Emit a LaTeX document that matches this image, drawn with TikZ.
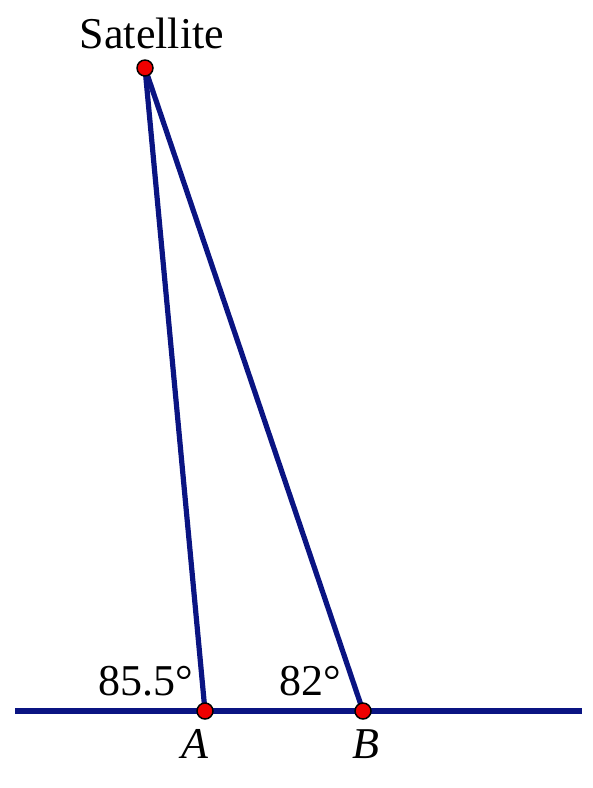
\documentclass[tikz,border=0pt]{standalone}
\usepackage{fontspec}
\setmainfont{Liberation Serif}
\begin{document}
\begin{tikzpicture}[x=0.75pt,y=-0.75pt,
  seg/.style={draw={rgb,255:red,10;green,20;blue,130},line width=3.9pt},
  pt/.style={circle,fill={rgb,255:red,240;green,0;blue,0},draw=black,line width=1.1pt,inner sep=0pt,minimum size=12pt},
  lbl/.style={font=\fontsize{33}{39}\selectfont,anchor=base,inner sep=0pt}]
\useasboundingbox (0,0) rectangle (592,788);
\coordinate (L) at (15,711);
\coordinate (R) at (582,711);
\coordinate (S) at (145,68);
\coordinate (A) at (205,711);
\coordinate (B) at (363,711);
\draw[seg] (L) -- (R);
\draw[seg] (S) -- (A);
\draw[seg] (S) -- (B);
\node[pt] (sp) at (S) {};
\node[pt] (ap) at (A) {};
\node[pt] (bp) at (B) {};
\node[lbl] (st) at (152,49) {Satellite};
\node[lbl] (a1) at (146,695) {85.5°};
\node[lbl] (a2) at (310,695) {82°};
\node[lbl] (la) at (195,758) {\itshape A};
\node[lbl] (lb) at (366,758) {\itshape B};
\end{tikzpicture}
\end{document}
